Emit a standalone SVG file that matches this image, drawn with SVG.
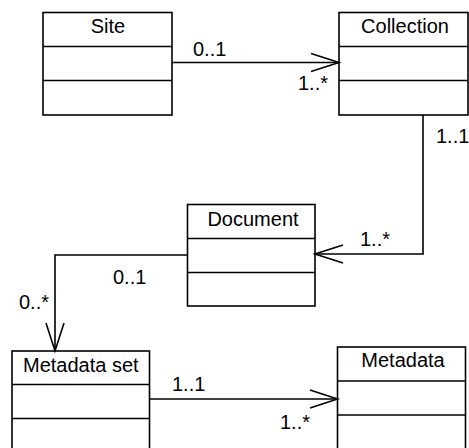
<svg xmlns="http://www.w3.org/2000/svg" width="469" height="448" viewBox="0 0 469 448">
<style>
.box{fill:#fff;stroke:#000;stroke-width:1.6}
.div{stroke:#000;stroke-width:1.6}
.t{font-family:"Liberation Sans",Arial,sans-serif;font-size:20px;fill:#000}
.c{stroke:#000;stroke-width:1.6;fill:none}
</style>
<rect width="469" height="448" fill="#fff"/>
<g id="site">
<rect class="box" x="43" y="12.5" width="129" height="102.5"/>
<line class="div" x1="43" y1="46.5" x2="172" y2="46.5"/>
<line class="div" x1="43" y1="80.5" x2="172" y2="80.5"/>
<text class="t" x="108" y="33" text-anchor="middle">Site</text>
</g>
<g id="collection">
<rect class="box" x="339" y="12.5" width="129" height="102.5"/>
<line class="div" x1="339" y1="46.5" x2="468" y2="46.5"/>
<line class="div" x1="339" y1="80.5" x2="468" y2="80.5"/>
<text class="t" x="405" y="33" text-anchor="middle">Collection</text>
</g>
<g id="document">
<rect class="box" x="187.5" y="204.5" width="127.5" height="101.5"/>
<line class="div" x1="187.5" y1="238.5" x2="315" y2="238.5"/>
<line class="div" x1="187.5" y1="272.5" x2="315" y2="272.5"/>
<text class="t" x="253" y="226" text-anchor="middle">Document</text>
</g>
<g id="metadataset">
<rect class="box" x="12" y="351" width="137.5" height="103"/>
<line class="div" x1="12" y1="384.5" x2="149.5" y2="384.5"/>
<line class="div" x1="12" y1="418.5" x2="149.5" y2="418.5"/>
<text class="t" x="23" y="372">Metadata set</text>
</g>
<g id="metadata">
<rect class="box" x="337.5" y="347" width="128" height="103"/>
<line class="div" x1="337.5" y1="381" x2="465.5" y2="381"/>
<line class="div" x1="337.5" y1="415" x2="465.5" y2="415"/>
<text class="t" x="403" y="367" text-anchor="middle">Metadata</text>
</g>
<g id="connectors">
<path class="c" d="M172 62.5H339"/>
<path class="c" d="M311 53.5L339 62.5L311 71.5"/>
<text class="t" x="193" y="56">0..1</text>
<text class="t" x="298" y="90">1..*</text>
<path class="c" d="M423 115V254H315"/>
<path class="c" d="M343 245L315 254L343 263"/>
<text class="t" x="436" y="143">1..1</text>
<text class="t" x="360" y="246">1..*</text>
<path class="c" d="M187.5 255H55V351"/>
<path class="c" d="M46 323L55 351L64 323"/>
<text class="t" x="113" y="284">0..1</text>
<text class="t" x="19" y="309">0..*</text>
<path class="c" d="M149.5 399H337.5"/>
<path class="c" d="M310 390L337.5 399L310 408"/>
<text class="t" x="172" y="391">1..1</text>
<text class="t" x="280" y="429">1..*</text>
</g>
</svg>
